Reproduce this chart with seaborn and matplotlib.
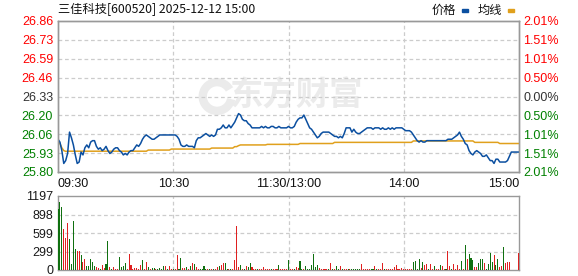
import numpy as np
import pandas as pd
import matplotlib
matplotlib.use("Agg")
import matplotlib.pyplot as plt
from matplotlib.patches import Arc
import seaborn as sns

# ---------------- data ----------------
title = "三佳科技[600520] 2025-12-12 15:00"
legend_names = ["价格", "均线"]
watermark = "东方财富"
price_ticks = ["25.80", "25.93", "26.06", "26.20", "26.33", "26.46", "26.59", "26.73", "26.86"]
pct_ticks = ["2.01%", "1.51%", "1.01%", "0.50%", "0.00%", "0.50%", "1.01%", "1.51%", "2.01%"]
vol_ticks = ["0", "299", "599", "898", "1197"]
time_labels = ["09:30", "10:30", "11:30/13:00", "14:00", "15:00"]
time_label_idx = [0, 60, 120, 180, 240]

price = [
    26.03, 26.01, 25.95, 25.86, 25.88, 25.93, 26.08, 26.04, 25.99, 25.92,
    25.86, 25.87, 25.94, 25.92, 25.97, 25.99, 25.97, 26.01, 26.02, 26.02,
    25.98, 25.96, 25.97, 25.95, 25.96, 25.98, 25.95, 25.93, 25.94, 25.96,
    25.97, 25.97, 25.95, 25.94, 25.92, 25.93, 25.92, 25.94, 25.95, 25.95,
    25.97, 25.99, 25.98, 26.00, 26.03, 26.05, 26.06, 26.05, 26.04, 26.03,
    26.03, 26.04, 26.05, 26.06, 26.06, 26.06, 26.06, 26.06, 26.06, 26.06,
    26.06, 26.06, 26.05, 26.03, 25.99, 25.98, 25.98, 25.99, 25.98, 25.98,
    25.98, 25.97, 26.02, 26.04, 26.04, 26.05, 26.06, 26.07, 26.06, 26.05,
    26.06, 26.05, 26.06, 26.10, 26.10, 26.11, 26.13, 26.11, 26.11, 26.13,
    26.11, 26.13, 26.15, 26.18, 26.21, 26.20, 26.17, 26.16, 26.16, 26.14,
    26.13, 26.11, 26.11, 26.11, 26.11, 26.11, 26.12, 26.11, 26.12, 26.11,
    26.11, 26.12, 26.12, 26.11, 26.11, 26.12, 26.11, 26.11, 26.11, 26.11,
    26.12, 26.11, 26.11, 26.12, 26.15, 26.17, 26.18, 26.18, 26.20, 26.17,
    26.14, 26.11, 26.10, 26.08, 26.06, 26.04, 26.05, 26.07, 26.08, 26.08,
    26.08, 26.08, 26.07, 26.06, 26.05, 26.05, 26.04, 26.05, 26.04, 26.07,
    26.11, 26.11, 26.11, 26.08, 26.10, 26.08, 26.07, 26.07, 26.08, 26.09,
    26.10, 26.11, 26.11, 26.11, 26.10, 26.11, 26.11, 26.11, 26.10, 26.11,
    26.10, 26.10, 26.11, 26.10, 26.11, 26.10, 26.11, 26.11, 26.11, 26.11,
    26.10, 26.09, 26.09, 26.09, 26.08, 26.06, 26.04, 26.02, 26.01, 26.02,
    26.01, 26.01, 26.02, 26.02, 26.02, 26.02, 26.02, 26.02, 26.02, 26.02,
    26.02, 26.02, 26.02, 26.03, 26.03, 26.03, 26.04, 26.05, 26.06, 26.08,
    26.05, 26.03, 26.00, 25.99, 25.95, 25.93, 25.92, 25.94, 25.95, 25.94,
    25.93, 25.91, 25.91, 25.92, 25.90, 25.88, 25.88, 25.86, 25.89, 25.89,
    25.87, 25.87, 25.87, 25.87, 25.88, 25.91, 25.94, 25.94, 25.94, 25.94,
    25.94,
]

avg_price = [
    26.02, 26.00, 25.97, 25.95, 25.945, 25.946, 25.946, 25.946, 25.946, 25.946,
    25.946, 25.946, 25.946, 25.946, 25.946, 25.946, 25.946, 25.946, 25.946, 25.946,
    25.946, 25.946, 25.946, 25.946, 25.946, 25.946, 25.946, 25.946, 25.946, 25.946,
    25.946, 25.946, 25.946, 25.946, 25.946, 25.946, 25.946, 25.946, 25.946, 25.946,
    25.946, 25.946, 25.946, 25.946, 25.946, 25.946, 25.946, 25.954, 25.954, 25.954,
    25.954, 25.954, 25.954, 25.954, 25.954, 25.954, 25.954, 25.954, 25.954, 25.961,
    25.961, 25.961, 25.961, 25.961, 25.961, 25.961, 25.961, 25.961, 25.961, 25.961,
    25.961, 25.961, 25.961, 25.961, 25.961, 25.961, 25.961, 25.961, 25.961, 25.961,
    25.968, 25.968, 25.968, 25.968, 25.968, 25.968, 25.968, 25.968, 25.968, 25.968,
    25.968, 25.968, 25.978, 25.978, 25.985, 25.990, 25.990, 25.990, 25.990, 25.990,
    25.990, 25.990, 25.990, 25.990, 25.990, 25.990, 25.990, 25.990, 25.990, 25.994,
    25.994, 25.994, 25.994, 25.994, 25.994, 25.994, 25.994, 25.994, 25.994, 25.994,
    25.994, 25.994, 25.994, 25.994, 25.994, 25.994, 26.000, 26.000, 26.000, 26.000,
    26.000, 26.000, 26.000, 26.000, 26.000, 26.000, 26.000, 26.000, 26.000, 26.000,
    26.000, 26.000, 26.000, 26.000, 26.008, 26.008, 26.008, 26.008, 26.008, 26.008,
    26.008, 26.008, 26.008, 26.008, 26.008, 26.008, 26.008, 26.008, 26.008, 26.008,
    26.008, 26.008, 26.008, 26.008, 26.008, 26.008, 26.008, 26.008, 26.008, 26.008,
    26.008, 26.008, 26.008, 26.008, 26.008, 26.008, 26.008, 26.008, 26.008, 26.008,
    26.008, 26.008, 26.008, 26.008, 26.008, 26.018, 26.018, 26.018, 26.018, 26.018,
    26.018, 26.018, 26.018, 26.018, 26.018, 26.018, 26.018, 26.018, 26.018, 26.018,
    26.018, 26.018, 26.018, 26.018, 26.018, 26.018, 26.018, 26.018, 26.018, 26.018,
    26.018, 26.018, 26.018, 26.018, 26.018, 26.018, 26.018, 26.008, 26.008, 26.008,
    26.008, 26.008, 26.008, 26.008, 26.008, 26.008, 26.008, 26.008, 26.008, 26.008,
    26.000, 26.000, 26.000, 26.000, 26.000, 26.000, 26.000, 26.000, 26.000, 26.000,
    26.000,
]

volume = [
    981, 1100, 1024, 663, 512, 765, 501, 97, 792, 340,
    307, 307, 243, 135, 178, 65, 65, 178, 130, 65,
    43, 32, 22, 81, 32, 97, 469, 43, 22, 54,
    22, 22, 216, 43, 65, 119, 22, 259, 75, 22,
    32, 32, 22, 75, 162, 22, 130, 43, 22, 32,
    32, 22, 22, 32, 22, 65, 65, 22, 65, 22,
    22, 22, 237, 22, 194, 32, 32, 54, 22, 65,
    113, 97, 54, 22, 22, 22, 65, 22, 22, 22,
    22, 22, 22, 43, 65, 86, 108, 119, 22, 22,
    22, 22, 162, 717, 43, 81, 22, 22, 65, 43,
    119, 43, 22, 22, 22, 22, 22, 43, 22, 22,
    22, 22, 22, 22, 22, 81, 22, 22, 22, 22,
    162, 22, 22, 22, 43, 32, 146, 22, 22, 65,
    22, 22, 81, 259, 43, 81, 32, 22, 22, 22,
    22, 22, 108, 22, 22, 65, 22, 65, 22, 22,
    22, 22, 22, 22, 22, 22, 22, 22, 97, 22,
    22, 22, 22, 22, 22, 65, 22, 22, 22, 113,
    22, 22, 22, 22, 22, 43, 81, 22, 22, 32,
    22, 22, 22, 22, 22, 130, 146, 22, 178, 32,
    130, 81, 97, 22, 97, 22, 65, 22, 22, 81,
    65, 22, 22, 307, 65, 22, 97, 22, 81, 22,
    146, 22, 404, 178, 259, 194, 162, 48, 48, 113,
    178, 178, 113, 22, 97, 275, 130, 243, 81, 178,
    48, 65, 372, 113, 130, 130, 0, 0, 0, 0,
    275,
]

# 1 = price up (red bar), 0 = price down (green bar)
vol_up = [
    0, 0, 0, 1, 1, 1, 0, 0, 0, 0,
    1, 1, 0, 1, 1, 0, 0, 0, 0, 0,
    1, 1, 0, 1, 1, 0, 0, 1, 0, 1,
    1, 1, 0, 0, 0, 0, 1, 1, 1, 1,
    1, 1, 1, 1, 0, 1, 1, 0, 1, 0,
    0, 1, 0, 0, 0, 0, 1, 0, 1, 1,
    0, 1, 1, 0, 0, 1, 1, 0, 1, 0,
    1, 0, 1, 1, 0, 0, 0, 0, 1, 0,
    1, 0, 1, 1, 0, 1, 1, 0, 0, 1,
    0, 1, 1, 1, 1, 0, 1, 0, 1, 0,
    0, 1, 1, 1, 0, 1, 1, 1, 1, 1,
    1, 0, 1, 1, 1, 0, 1, 1, 1, 1,
    0, 1, 1, 0, 1, 1, 0, 0, 1, 0,
    0, 0, 0, 0, 0, 0, 1, 1, 1, 1,
    1, 0, 1, 0, 1, 0, 0, 1, 0, 1,
    1, 0, 1, 0, 0, 0, 0, 0, 1, 1,
    1, 1, 1, 0, 0, 1, 0, 1, 1, 1,
    0, 1, 1, 1, 1, 1, 1, 1, 1, 1,
    1, 1, 1, 1, 1, 0, 0, 0, 0, 1,
    0, 1, 1, 0, 1, 1, 0, 1, 1, 0,
    1, 1, 0, 1, 1, 0, 1, 1, 1, 1,
    0, 1, 0, 1, 0, 0, 0, 1, 1, 0,
    0, 0, 1, 0, 0, 0, 0, 1, 0, 0,
    1, 1, 0, 1, 1, 1, 1, 1, 1, 1,
    1,
]

# ---------------- styling ----------------
sns.set_style("white")
plt.rcParams["font.family"] = ["Liberation Sans", "Noto Sans CJK SC", "DejaVu Sans"]
plt.rcParams["axes.unicode_minus"] = False

RED = "#ff0000"
GREEN = "#008000"
BLUE = "#0b4fa0"
ORANGE = "#e0a01c"
GRID = "#cccccc"
BORDER = "#999999"
WM = "#ebebeb"

W, H = 578, 276
fig = plt.figure(figsize=(W / 100, H / 100), dpi=100)
fig.patch.set_facecolor("white")

def fx(px):
    return px / W

def fy(py):
    return 1 - py / H

ax = fig.add_axes([fx(58), fy(172), fx(519) - fx(58), fy(21) - fy(172)])
axv = fig.add_axes([fx(58), fy(270), fx(519) - fx(58), fy(196) - fy(270)])

n = len(price)
df = pd.DataFrame({
    "t": np.arange(n),
    "price": price,
    "avg": avg_price,
    "vol": volume,
    "dir": ["up" if u else "down" for u in vol_up],
})

# watermark (logo swoosh + text)
ax.text(0.515, 0.50, watermark, transform=ax.transAxes, ha="center", va="center",
        fontsize=24, fontweight="bold", color=WM, style="italic",
        family=["Noto Sans CJK SC", "DejaVu Sans"], zorder=0)
ax.add_patch(Arc((0.345, 0.50), 0.062, 0.19, theta1=60, theta2=330,
                 lw=6, color=WM, transform=ax.transAxes, zorder=0))

sns.lineplot(data=df, x="t", y="avg", ax=ax, color=ORANGE, lw=1.1, zorder=3)
sns.lineplot(data=df, x="t", y="price", ax=ax, color=BLUE, lw=1.1, zorder=4)

ymin = float(price_ticks[0])
ymax = float(price_ticks[-1])
ax.set_xlim(0, n - 1)
ax.set_ylim(ymin, ymax)
yt = np.linspace(ymin, ymax, len(price_ticks))
ax.set_yticks(yt)
ax.set_yticklabels(price_ticks)
ax.set_xticks(time_label_idx)
ax.set_xticklabels(time_labels)
ax.set_xlabel("")
ax.set_ylabel("")

mid = len(price_ticks) // 2
xl = ax.get_xticklabels()
xl[0].set_ha("left")
xl[-1].set_ha("right")

ax.tick_params(axis="both", length=0, labelsize=9, colors="#111111")
ax.tick_params(axis="y", pad=3.5)
ax.tick_params(axis="x", pad=4)
for i, lab in enumerate(ax.get_yticklabels()):
    lab.set_color(RED if i > mid else ("#333333" if i == mid else GREEN))

# right percent axis
axr = ax.twinx()
axr.set_ylim(ymin, ymax)
axr.set_yticks(yt)
axr.set_yticklabels(pct_ticks)
axr.tick_params(axis="y", length=0, labelsize=9, pad=3)
for i, lab in enumerate(axr.get_yticklabels()):
    lab.set_color(RED if i > mid else ("#333333" if i == mid else GREEN))

# grid
dash = (3, 2.2)
for y in yt[1:-1]:
    ax.axhline(y, color=GRID, lw=0.9, dashes=dash, zorder=1)
for x in time_label_idx[1:-1]:
    ax.axvline(x, color=GRID, lw=0.9, dashes=dash, zorder=1)

for a in (ax, axr):
    for s in a.spines.values():
        s.set_color(BORDER)
        s.set_linewidth(1.0)

# volume
sns.barplot(data=df, x="t", y="vol", hue="dir", palette={"up": RED, "down": GREEN},
            native_scale=True, dodge=False, width=0.55, errorbar=None,
            legend=False, ax=axv, zorder=3, linewidth=0)
vmax = float(vol_ticks[-1])
axv.set_xlim(0, n - 1)
axv.set_ylim(0, vmax)
vt = np.linspace(0, vmax, len(vol_ticks))
axv.set_yticks(vt)
axv.set_yticklabels(vol_ticks)
axv.set_xticks([])
axv.set_xlabel("")
axv.set_ylabel("")
axv.tick_params(axis="y", length=0, labelsize=9, pad=3.5, colors="#1a1a1a")
for y in vt[1:-1]:
    axv.axhline(y, color=GRID, lw=0.9, dashes=dash, zorder=1)
for x in time_label_idx[1:-1]:
    axv.axvline(x, color=GRID, lw=0.9, dashes=dash, zorder=1)
for s in axv.spines.values():
    s.set_color(BORDER)
    s.set_linewidth(1.0)

# title and legend
cjk = ["Noto Sans CJK SC", "DejaVu Sans"]
fig.text(fx(58), fy(10), title, ha="left", va="center", fontsize=8.8,
         family=cjk, color="#111111")
fig.text(fx(432), fy(10), legend_names[0], ha="left", va="center", fontsize=8.8,
         family=cjk, color="#111111")
fig.text(fx(478), fy(10), legend_names[1], ha="left", va="center", fontsize=8.8,
         family=cjk, color="#111111")
fig.add_artist(plt.Rectangle((fx(462), fy(11.5)), fx(6), 2.5 / H, color=BLUE,
                             transform=fig.transFigure))
fig.add_artist(plt.Rectangle((fx(508), fy(11.5)), fx(6), 2.5 / H, color=ORANGE,
                             transform=fig.transFigure))

fig.savefig("out.png", dpi=100, facecolor="white")
